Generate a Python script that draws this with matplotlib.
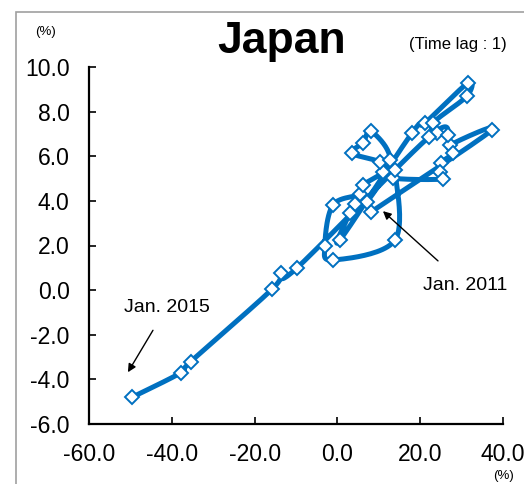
import numpy as np
import matplotlib
matplotlib.use("Agg")
import matplotlib.pyplot as plt
from matplotlib.patches import Rectangle

plt.rcParams['font.family'] = ['Liberation Sans', 'DejaVu Sans']

# Data (time order estimated), x: %, y: %
x_vals = [8.1, 37.3, 27.2, 27.9, 25.0, 24.8, 25.5, 13.4, 13.9, 13.9, -1.1, -3.0, -1.1,
          5.5, 6.2, 11.0, 10.3, 3.5, 6.2, 8.1, 12.7, 7.1, 4.3, 3.0, 0.6, 18.0, 21.2,
          31.5, 31.3, 23.1, 24.1, 26.7, 22.1, -9.8, -13.6, -15.8, -35.4, -37.8, -49.6]
y_vals = [3.5, 7.17, 6.5, 6.14, 5.7, 5.29, 4.98, 5.02, 5.38, 2.24, 1.35, 2.0, 3.81,
          4.3, 4.71, 5.29, 5.74, 6.14, 6.6, 7.13, 5.83, 3.95, 3.86, 3.45, 2.24, 7.04, 7.49,
          9.28, 8.7, 7.49, 7.04, 6.95, 6.86, 0.99, 0.76, 0.04, -3.2, -3.7, -4.8]
x_ticks = [-60, -40, -20, 0, 20, 40]
y_ticks = [-6, -4, -2, 0, 2, 4, 6, 8, 10]

BLUE = '#0070C0'

fig = plt.figure(figsize=(5.24, 4.84), dpi=100)
fig.patch.set_facecolor('white')
fig.patches.append(Rectangle((16/524, -0.1), 1.2, 1 - 12/484 + 0.1, transform=fig.transFigure,
                             fill=False, edgecolor='#a0a0a0', lw=1.2, zorder=0))

ax = fig.add_axes([89/524, 60/484, 414/524, 357/484])
ax.set_xlim(-60, 40)
ax.set_ylim(-6, 10)

# smoothed line (Bezier through the points in display-proportional space, like Excel)
sx, sy = 414/100.0, 357/16.0
P = np.column_stack([(np.array(x_vals) + 60) * sx, (np.array(y_vals) + 6) * sy])
pts = [P[0]] + list(P) + [P[-1]]
curve = []
t = np.linspace(0, 1, 25)
for i in range(1, len(pts) - 2):
    p0, p1, p2, p3 = pts[i-1], pts[i], pts[i+1], pts[i+2]
    c1 = p1 + (p2 - p0) / 6.0
    c2 = p2 - (p3 - p1) / 6.0
    seg = ((1-t)**3)[:, None]*p1 + (3*(1-t)**2*t)[:, None]*c1 + (3*(1-t)*t**2)[:, None]*c2 + (t**3)[:, None]*p2
    curve.append(seg)
curve = np.vstack(curve)
ax.plot(curve[:, 0]/sx - 60, curve[:, 1]/sy - 6, color=BLUE, lw=3.6, solid_capstyle='round',
        solid_joinstyle='round', zorder=2)
ax.plot(x_vals, y_vals, linestyle='none', marker='D', markersize=7, markerfacecolor='white',
        markeredgecolor=BLUE, markeredgewidth=1.4, zorder=3)

for s in ['top', 'right']:
    ax.spines[s].set_visible(False)
for s in ['left', 'bottom']:
    ax.spines[s].set_linewidth(1.6)
    ax.spines[s].set_color('black')

ax.set_xticks(x_ticks)
ax.set_yticks(y_ticks)
ax.set_xticklabels([f"{v:.1f}" for v in x_ticks])
ax.set_yticklabels([f"{v:.1f}" for v in y_ticks])
ax.tick_params(direction='in', length=5, width=1.2, labelsize=16.5)
ax.tick_params(axis='x', pad=14)
ax.tick_params(axis='y', pad=14)

fig.text(282/524, 1 - 42/484, 'Japan', fontsize=32, fontweight='bold', ha='center', va='center')
fig.text(458/524, 1 - 45/484, '(Time lag : 1)', fontsize=12, ha='center', va='center')
fig.text(46/524, 1 - 32/484, '(%)', fontsize=9.5, ha='center', va='center')
fig.text(503/524, 1 - 476/484, '(%)', fontsize=9.5, ha='center', va='center')

ax.annotate('Jan. 2015', xy=(-50.6, -3.68), xytext=(-41.2, -0.76), fontsize=14,
            ha='center', va='center', annotation_clip=False,
            arrowprops=dict(arrowstyle='-|>', color='black', lw=1.0, mutation_scale=12,
                            shrinkA=10, shrinkB=0))
ax.annotate('Jan. 2011', xy=(11.0, 3.54), xytext=(30.8, 0.22), fontsize=14,
            ha='center', va='center', annotation_clip=False,
            arrowprops=dict(arrowstyle='-|>', color='black', lw=1.0, mutation_scale=12,
                            shrinkA=14, shrinkB=0))

fig.savefig('out.png', dpi=100)
